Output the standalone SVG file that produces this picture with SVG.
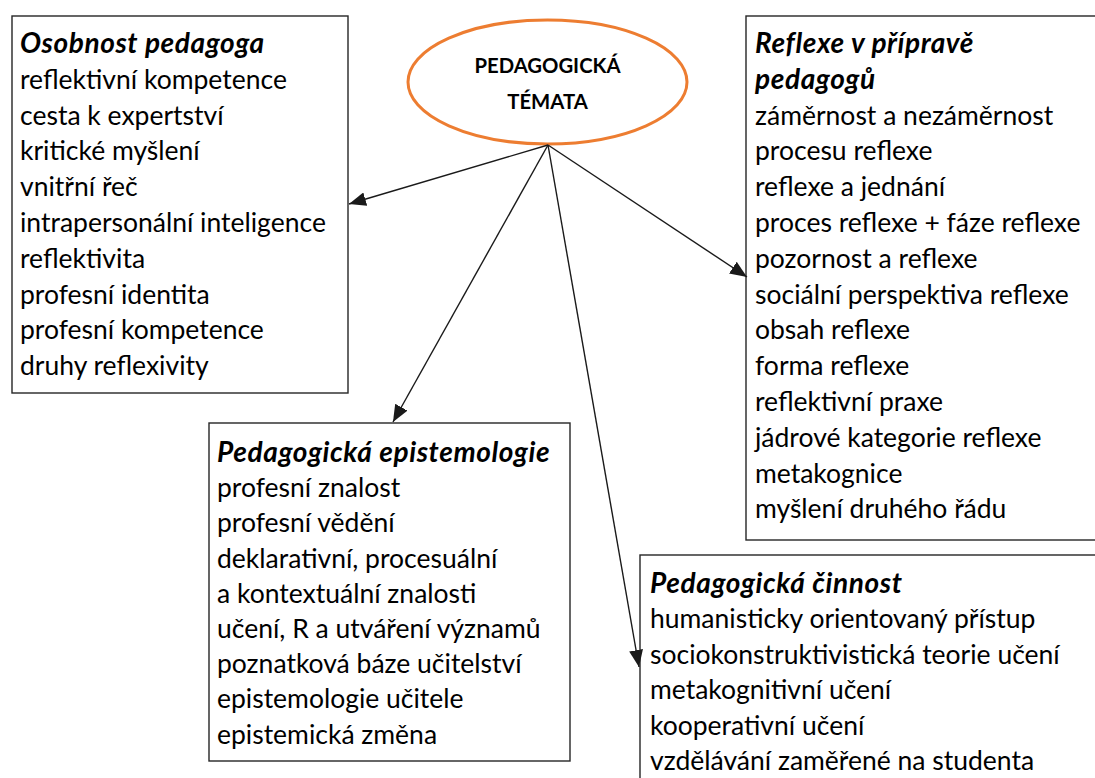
<svg xmlns="http://www.w3.org/2000/svg" width="1095" height="778" viewBox="0 0 1095 778">
  <style>
    .box { fill: #ffffff; stroke: #262626; stroke-width: 1.4; }
    .txt { font-family: Lato, "Open Sans", "Liberation Sans", sans-serif; font-size: 26.5px; fill: #000000; }
    .ttl { font-weight: bold; font-style: italic; font-size: 28px; letter-spacing: 0.6px; }
    .hub { font-family: Lato, "Open Sans", "Liberation Sans", sans-serif; font-size: 20.3px; font-weight: bold; fill: #000000; text-anchor: middle; }
    .conn { stroke: #1a1a1a; stroke-width: 1.4; fill: none; marker-end: url(#arrow); }
  </style>
  <defs>
    <marker id="arrow" markerUnits="userSpaceOnUse" markerWidth="18" markerHeight="14" refX="17" refY="7" orient="auto">
      <path d="M0,0 L17,7 L0,14 z" fill="#1a1a1a"/>
    </marker>
  </defs>
  <rect width="1095" height="778" fill="#ffffff"/>

  <!-- central topic -->
  <g id="hub">
    <ellipse cx="547.5" cy="82" rx="139.5" ry="62" fill="#ffffff" stroke="#ED7D31" stroke-width="3"/>
    <text class="hub" x="547.5" y="73">PEDAGOGICKÁ</text>
    <text class="hub" x="547.5" y="109">TÉMATA</text>
  </g>

  <g id="osobnost">
    <rect class="box" x="12" y="16" width="336" height="377"/>
    <text class="txt" x="20">
      <tspan class="ttl" x="20" y="53">Osobnost pedagoga</tspan>
      <tspan x="20" y="88.8">reflektivní kompetence</tspan>
      <tspan x="20" y="124.6">cesta k expertství</tspan>
      <tspan x="20" y="160.4">kritické myšlení</tspan>
      <tspan x="20" y="196.2">vnitřní řeč</tspan>
      <tspan x="20" y="232">intrapersonální inteligence</tspan>
      <tspan x="20" y="267.8">reflektivita</tspan>
      <tspan x="20" y="303.6">profesní identita</tspan>
      <tspan x="20" y="339.4">profesní kompetence</tspan>
      <tspan x="20" y="375.2">druhy reflexivity</tspan>
    </text>
  </g>

  <g id="reflexe">
    <rect class="box" x="746" y="16" width="400" height="524"/>
    <text class="txt" x="755">
      <tspan class="ttl" x="755" y="53">Reflexe v přípravě</tspan>
      <tspan class="ttl" x="755" y="88.8">pedagogů</tspan>
      <tspan x="755" y="124.6">záměrnost a nezáměrnost</tspan>
      <tspan x="755" y="160.4">procesu reflexe</tspan>
      <tspan x="755" y="196.2">reflexe a jednání</tspan>
      <tspan x="755" y="232">proces reflexe + fáze reflexe</tspan>
      <tspan x="755" y="267.8">pozornost a reflexe</tspan>
      <tspan x="755" y="303.6">sociální perspektiva reflexe</tspan>
      <tspan x="755" y="339.4">obsah reflexe</tspan>
      <tspan x="755" y="375.2">forma reflexe</tspan>
      <tspan x="755" y="411">reflektivní praxe</tspan>
      <tspan x="755" y="446.8">jádrové kategorie reflexe</tspan>
      <tspan x="755" y="482.6">metakognice</tspan>
      <tspan x="755" y="518.4">myšlení druhého řádu</tspan>
    </text>
  </g>

  <g id="epistemologie">
    <rect class="box" x="209" y="423" width="361" height="338"/>
    <text class="txt" x="217">
      <tspan class="ttl" x="217" y="462">Pedagogická epistemologie</tspan>
      <tspan x="217" y="497.2">profesní znalost</tspan>
      <tspan x="217" y="532.4">profesní vědění</tspan>
      <tspan x="217" y="567.6">deklarativní, procesuální</tspan>
      <tspan x="217" y="602.8">a kontextuální znalosti</tspan>
      <tspan x="217" y="638">učení, R a utváření významů</tspan>
      <tspan x="217" y="673.2">poznatková báze učitelství</tspan>
      <tspan x="217" y="708.4">epistemologie učitele</tspan>
      <tspan x="217" y="743.6">epistemická změna</tspan>
    </text>
  </g>

  <g id="cinnost">
    <rect class="box" x="640" y="555" width="500" height="300"/>
    <text class="txt" x="650">
      <tspan class="ttl" x="650" y="593">Pedagogická činnost</tspan>
      <tspan x="650" y="628.4">humanisticky orientovaný přístup</tspan>
      <tspan x="650" y="663.8">sociokonstruktivistická teorie učení</tspan>
      <tspan x="650" y="699.2">metakognitivní učení</tspan>
      <tspan x="650" y="734.6">kooperativní učení</tspan>
      <tspan x="650" y="770">vzdělávání zaměřené na studenta</tspan>
    </text>
  </g>

  <!-- connectors from the central topic -->
  <g id="connectors">
    <line class="conn" x1="548" y1="145" x2="349" y2="204"/>
    <line class="conn" x1="548" y1="145" x2="393" y2="422"/>
    <line class="conn" x1="548" y1="145" x2="747" y2="277"/>
    <line class="conn" x1="548" y1="145" x2="639" y2="667"/>
  </g>
</svg>
